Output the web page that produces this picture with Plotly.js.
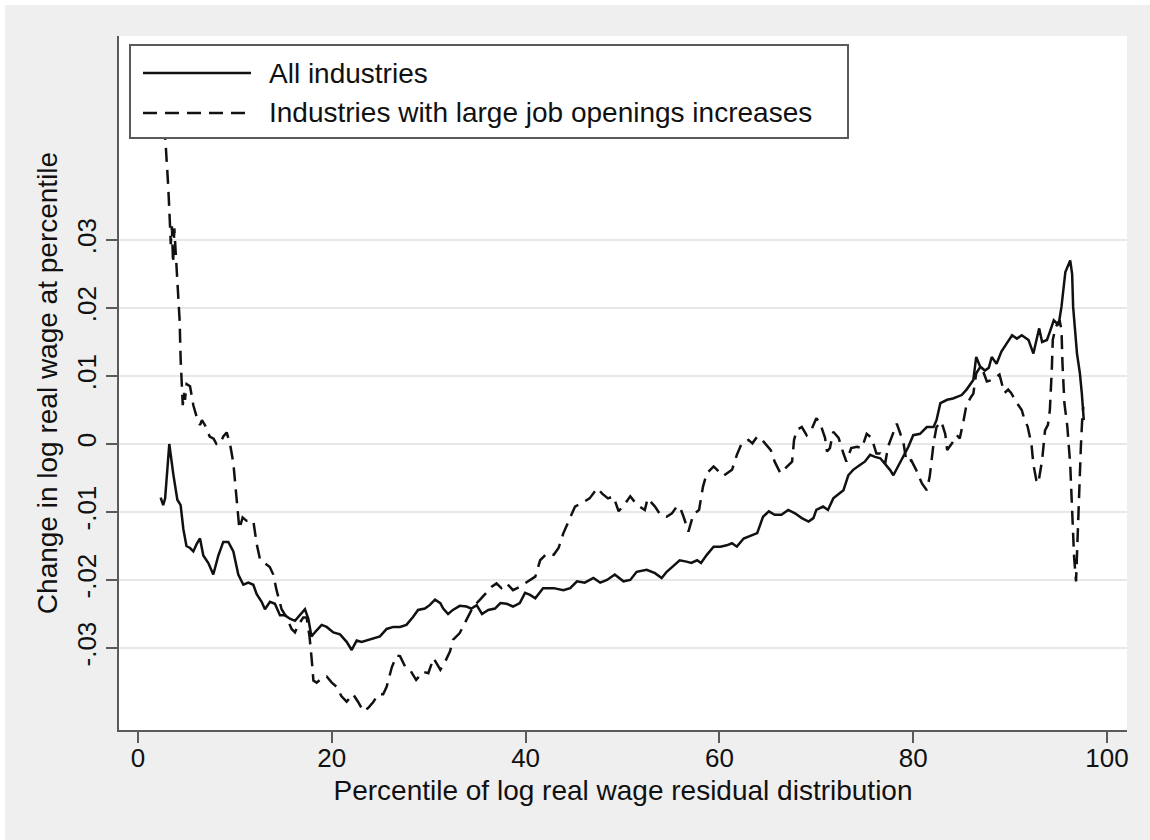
<!DOCTYPE html>
<html>
<head>
<meta charset="utf-8">
<script src="https://cdn.plot.ly/plotly-3.0.1.min.js"></script>
<style>
  html, body { margin: 0; padding: 0; background: #ffffff; }
  #chart { position: absolute; left: 5px; top: 5px; width: 1145px; height: 835px; }
</style>
</head>
<body>
<div id="chart"></div>
<script>
// ---- Data ----
const seriesNames = ["All industries", "Industries with large job openings increases"];

const allIndustries = [
  [2.34,-0.0079],[2.6,-0.009],[2.8,-0.008],[3.23,0.000],[3.65,-0.0045],[4.06,-0.0082],[4.4,-0.009],
  [4.68,-0.0125],[5.0,-0.015],[5.37,-0.0153],[5.71,-0.0158],[6.06,-0.0147],[6.4,-0.0139],[6.74,-0.0164],
  [7.26,-0.0175],[7.77,-0.0192],[8.29,-0.0164],[8.8,-0.0144],[9.32,-0.0144],[9.84,-0.0158],[10.35,-0.0192],
  [10.87,-0.0207],[11.39,-0.0204],[11.9,-0.0207],[12.25,-0.0221],[12.76,-0.0232],[13.1,-0.0243],[13.62,-0.0232],
  [14.13,-0.0235],[14.65,-0.0252],[15.17,-0.0252],[15.68,-0.0257],[16.2,-0.026],[16.72,-0.0252],[17.23,-0.0243],
  [17.58,-0.0257],[17.9,-0.0283],[18.44,-0.0274],[18.95,-0.0266],[19.47,-0.0269],[20.16,-0.0277],[20.85,-0.028],
  [21.53,-0.0291],[22.05,-0.0303],[22.57,-0.0289],[23.08,-0.0291],[23.6,-0.0289],[24.3,-0.0286],[24.97,-0.0283],
  [25.66,-0.0272],[26.35,-0.0269],[27.04,-0.0269],[27.7,-0.0266],[28.4,-0.0254],[28.9,-0.0244],[29.6,-0.0242],
  [30.1,-0.0237],[30.65,-0.0229],[31.2,-0.0234],[31.5,-0.0242],[32.0,-0.025],[32.5,-0.0244],[33.2,-0.0238],
  [33.9,-0.0239],[34.4,-0.0242],[34.95,-0.0237],[35.5,-0.025],[36.15,-0.0244],[36.84,-0.0242],[37.4,-0.0234],
  [38.05,-0.0235],[38.7,-0.0239],[39.4,-0.0234],[39.94,-0.0219],[40.46,-0.0222],[41.0,-0.0227],[41.8,-0.0212],
  [42.9,-0.0212],[43.9,-0.0215],[44.6,-0.0212],[45.3,-0.0202],[46.1,-0.0204],[47.0,-0.0197],[47.7,-0.0204],
  [48.4,-0.02],[49.2,-0.0192],[50.1,-0.0202],[50.8,-0.02],[51.46,-0.0188],[52.5,-0.0185],[53.35,-0.019],
  [54.04,-0.0197],[54.56,-0.0188],[55.2,-0.018],[55.9,-0.0171],[56.6,-0.0173],[57.1,-0.0175],[57.7,-0.0171],
  [58.1,-0.0175],[58.7,-0.0163],[59.4,-0.0151],[60.1,-0.0151],[60.75,-0.0149],[61.3,-0.0146],[61.8,-0.0151],
  [62.5,-0.0139],[63.1,-0.0136],[63.9,-0.0131],[64.5,-0.0107],[65.1,-0.0099],[65.7,-0.0104],[66.4,-0.0104],
  [67.1,-0.0097],[67.8,-0.0102],[68.5,-0.0109],[69.2,-0.0114],[69.7,-0.0109],[70.0,-0.0097],[70.7,-0.0092],
  [71.2,-0.0097],[71.75,-0.008],[72.3,-0.0073],[72.8,-0.0068],[73.3,-0.0046],[73.8,-0.0038],[74.5,-0.0031],
  [75.0,-0.0026],[75.55,-0.0016],[76.05,-0.0019],[76.6,-0.0021],[77.1,-0.0029],[77.6,-0.0038],[77.95,-0.0046],
  [78.5,-0.0031],[79.0,-0.0016],[79.5,-0.0004],[80.0,0.0013],[80.7,0.0015],[81.4,0.0025],[82.1,0.0025],
  [82.4,0.0035],[82.8,0.006],[83.5,0.0065],[84.1,0.0067],[85.0,0.0072],[85.5,0.008],[86.2,0.0094],
  [86.5,0.0128],[86.9,0.0114],[87.4,0.0108],[87.8,0.0112],[88.1,0.0128],[88.6,0.0118],[89.1,0.0136],
  [89.65,0.0148],[90.2,0.016],[90.7,0.0155],[91.2,0.016],[91.9,0.0153],[92.4,0.0133],[92.8,0.0158],
  [93.0,0.017],[93.3,0.015],[93.8,0.0153],[94.1,0.0165],[94.5,0.0182],[95.0,0.0175],[95.3,0.0202],
  [95.7,0.0253],[96.2,0.027],[96.4,0.025],[96.5,0.0202],[96.9,0.0133],[97.2,0.0104],[97.4,0.0074],
  [97.6,0.0035]
];

const largeJobOpenings = [
  [2.6,0.05],[2.86,0.0447],[3.12,0.0379],[3.3,0.0323],[3.38,0.0294],[3.5,0.032],[3.62,0.0266],[3.75,0.0317],
  [3.9,0.0277],[4.1,0.0238],[4.3,0.0181],[4.4,0.0125],[4.5,0.009],[4.62,0.0057],[4.75,0.0075],[4.85,0.0065],
  [5.02,0.0088],[5.37,0.0085],[5.71,0.0057],[6.05,0.004],[6.4,0.0028],[6.6,0.0035],[6.9,0.0028],[7.4,0.0011],
  [7.8,0.0008],[8.1,0.0],[8.46,0.0],[8.8,0.0011],[9.15,0.0017],[9.5,0.0],[9.84,-0.0028],[10.18,-0.0079],
  [10.46,-0.0125],[10.8,-0.0108],[11.2,-0.0113],[11.9,-0.0113],[12.25,-0.0147],[12.6,-0.017],[13.1,-0.0175],
  [13.6,-0.0181],[13.96,-0.0192],[14.3,-0.0215],[14.82,-0.0243],[15.34,-0.0255],[15.85,-0.0272],[16.2,-0.0277],
  [16.55,-0.0266],[17.06,-0.0255],[17.4,-0.0255],[17.7,-0.0283],[17.93,-0.0317],[18.1,-0.0348],[18.44,-0.0351],
  [18.95,-0.0345],[19.47,-0.0342],[20.0,-0.0351],[20.5,-0.0357],[21.0,-0.0371],[21.53,-0.0379],[22.2,-0.0368],
  [22.7,-0.0379],[23.26,-0.0393],[23.77,-0.0388],[24.3,-0.0379],[24.8,-0.0368],[25.3,-0.0368],[25.66,-0.0357],
  [26.2,-0.0328],[26.7,-0.0311],[27.04,-0.0312],[27.55,-0.0327],[28.06,-0.0332],[28.7,-0.0347],[29.4,-0.0335],
  [29.96,-0.0337],[30.5,-0.0315],[31.2,-0.0332],[31.7,-0.032],[32.2,-0.0305],[32.5,-0.0288],[33.2,-0.0278],
  [33.9,-0.0259],[34.6,-0.0239],[35.3,-0.0229],[35.98,-0.0219],[36.5,-0.021],[37.0,-0.0205],[37.5,-0.0212],
  [38.05,-0.0205],[38.7,-0.0215],[39.4,-0.021],[40.3,-0.0202],[41.0,-0.0195],[41.5,-0.0171],[42.2,-0.0161],
  [42.9,-0.0163],[43.4,-0.0153],[43.9,-0.0131],[44.6,-0.0107],[45.1,-0.0092],[45.8,-0.0087],[46.6,-0.008],
  [47.4,-0.0065],[47.9,-0.0073],[48.5,-0.008],[49.06,-0.0077],[49.6,-0.0099],[50.2,-0.0089],[50.8,-0.0077],
  [51.46,-0.0089],[52.3,-0.0097],[52.6,-0.008],[53.35,-0.0092],[53.9,-0.0104],[54.56,-0.0107],[55.1,-0.0102],
  [55.6,-0.0092],[55.9,-0.0092],[56.3,-0.0107],[56.8,-0.0129],[57.3,-0.0104],[57.9,-0.0097],[58.3,-0.0063],
  [58.7,-0.0043],[59.4,-0.0033],[60.4,-0.0047],[61.3,-0.0038],[61.8,-0.0016],[62.3,0.0001],[63.0,0.0006],
  [63.4,0.0001],[63.9,0.0011],[64.4,0.0006],[65.3,-0.0009],[65.7,-0.0026],[66.3,-0.0043],[67.0,-0.0033],
  [67.5,-0.0026],[67.7,0.0006],[68.0,0.0021],[68.5,0.0025],[69.0,0.0013],[69.5,0.0021],[70.0,0.0038],
  [70.4,0.003],[70.9,0.0009],[71.1,-0.0011],[71.4,-0.0006],[71.75,0.0018],[72.3,0.0009],[72.8,-0.0014],
  [73.1,-0.0026],[73.6,-0.0006],[74.2,-0.0004],[74.7,-0.0006],[75.2,0.0015],[75.7,0.0009],[76.2,-0.0014],
  [76.6,-0.0014],[77.1,-0.0029],[77.4,-0.0004],[77.95,0.0018],[78.3,0.003],[78.6,0.0018],[79.0,0.0001],
  [79.3,-0.0026],[79.8,-0.0024],[80.3,-0.0038],[80.9,-0.0058],[81.4,-0.0068],[81.7,-0.0048],[82.1,0.0001],
  [82.4,0.0025],[82.9,0.0033],[83.3,0.0015],[83.5,-0.0009],[84.0,0.0001],[84.5,0.0013],[84.8,0.0008],
  [85.2,0.0035],[85.5,0.0058],[86.0,0.007],[86.2,0.0074],[86.5,0.0104],[87.0,0.0115],[87.6,0.0092],
  [88.1,0.0094],[88.9,0.0102],[89.4,0.0075],[89.8,0.008],[90.1,0.0075],[90.7,0.006],[91.2,0.005],
  [91.5,0.0035],[91.8,0.0026],[92.2,0.0],[92.4,-0.003],[92.7,-0.0053],[92.9,-0.0058],[93.3,-0.0024],
  [93.6,0.002],[93.9,0.0028],[94.1,0.005],[94.3,0.0109],[94.4,0.0153],[94.7,0.0172],[94.9,0.0177],
  [95.1,0.0182],[95.3,0.0168],[95.4,0.0119],[95.6,0.006],[95.9,0.0026],[96.2,-0.003],[96.4,-0.0102],
  [96.6,-0.0166],[96.8,-0.0202],[96.9,-0.0156],[97.1,-0.0077],[97.3,-0.0004],[97.45,0.004],[97.55,0.0055]
];

const xTickVals = [0, 20, 40, 60, 80, 100];
const xTickText = ["0", "20", "40", "60", "80", "100"];
const yTickVals = [-0.03, -0.02, -0.01, 0, 0.01, 0.02, 0.03];
const yTickText = ["-.03", "-.02", "-.01", "0", ".01", ".02", ".03"];

const xAxisTitle = "Percentile of log real wage residual distribution";
const yAxisTitle = "Change in log real wage at percentile";

// ---- Styling ----
const FONT = "Liberation Sans, Arial, Helvetica, sans-serif";
const FS_TICK = 26;
const FS_TEXT = 28;
const INK = "#111111";
const AXIS = "#5a5a5a";

// plot area in page pixels (div is offset by 5px)
const PL = 119, PR = 1127, PT = 36, PB = 730;
const px2paperX = p => (p - PL) / (PR - PL);
const px2paperY = p => (PB - p) / (PB - PT);

const traces = [
  {
    x: allIndustries.map(d => d[0]), y: allIndustries.map(d => d[1]),
    type: "scatter", mode: "lines", name: seriesNames[0], showlegend: false,
    line: { color: INK, width: 2.5 }, hoverinfo: "skip"
  },
  {
    x: largeJobOpenings.map(d => d[0]), y: largeJobOpenings.map(d => d[1]),
    type: "scatter", mode: "lines", name: seriesNames[1], showlegend: false,
    line: { color: INK, width: 2.5, dash: "14px,8px" }, hoverinfo: "skip"
  }
];

// legend box drawn in Stata style
const legBox = { x0: 130, x1: 848, y0: 45, y1: 138 };
const legRows = [73, 113];
const shapes = [
  { type: "rect", xref: "paper", yref: "paper", layer: "above",
    x0: px2paperX(legBox.x0), x1: px2paperX(legBox.x1), y0: px2paperY(legBox.y1), y1: px2paperY(legBox.y0),
    fillcolor: "#ffffff", line: { color: AXIS, width: 2 } },
  { type: "line", xref: "paper", yref: "paper", layer: "above",
    x0: px2paperX(143), x1: px2paperX(251), y0: px2paperY(legRows[0]), y1: px2paperY(legRows[0]),
    line: { color: INK, width: 2.5 } },
  { type: "line", xref: "paper", yref: "paper", layer: "above",
    x0: px2paperX(143), x1: px2paperX(251), y0: px2paperY(legRows[1]), y1: px2paperY(legRows[1]),
    line: { color: INK, width: 2.5, dash: "14px,8px" } }
];
const annotations = seriesNames.map((name, i) => ({
  xref: "paper", yref: "paper", x: px2paperX(267), y: px2paperY(legRows[i]),
  xanchor: "left", yanchor: "middle", showarrow: false, text: name,
  font: { family: FONT, size: FS_TEXT, color: INK }
}));

const layout = {
  width: 1145, height: 835,
  margin: { l: PL - 5, r: 1150 - PR, t: PT - 5, b: 840 - PB, pad: 0 },
  paper_bgcolor: "#efefef",
  plot_bgcolor: "#ffffff",
  font: { family: FONT, size: FS_TICK, color: INK },
  showlegend: false,
  xaxis: {
    range: [-1.96, 102.06], tickvals: xTickVals, ticktext: xTickText,
    showgrid: false, zeroline: false,
    showline: true, linecolor: AXIS, linewidth: 2,
    ticks: "outside", ticklen: 11, tickwidth: 2, tickcolor: AXIS,
    ticklabelstandoff: -7,
    tickfont: { family: FONT, size: FS_TICK, color: INK },
    title: { text: xAxisTitle, font: { family: FONT, size: FS_TEXT, color: INK }, standoff: 8 },
    automargin: false, fixedrange: true
  },
  yaxis: {
    range: [-0.04206, 0.06], tickvals: yTickVals, ticktext: yTickText, tickangle: -90,
    showgrid: true, gridcolor: "#e8e8e8", gridwidth: 2, zeroline: false,
    showline: true, linecolor: AXIS, linewidth: 2,
    ticks: "outside", ticklen: 11, tickwidth: 2, tickcolor: AXIS,
    tickfont: { family: FONT, size: FS_TICK, color: INK },
    title: { text: yAxisTitle, font: { family: FONT, size: FS_TEXT, color: INK }, standoff: 6 },
    automargin: false, fixedrange: true
  },
  shapes: shapes,
  annotations: annotations
};

Plotly.newPlot("chart", traces, layout, { displayModeBar: false, staticPlot: true });
</script>
</body>
</html>
